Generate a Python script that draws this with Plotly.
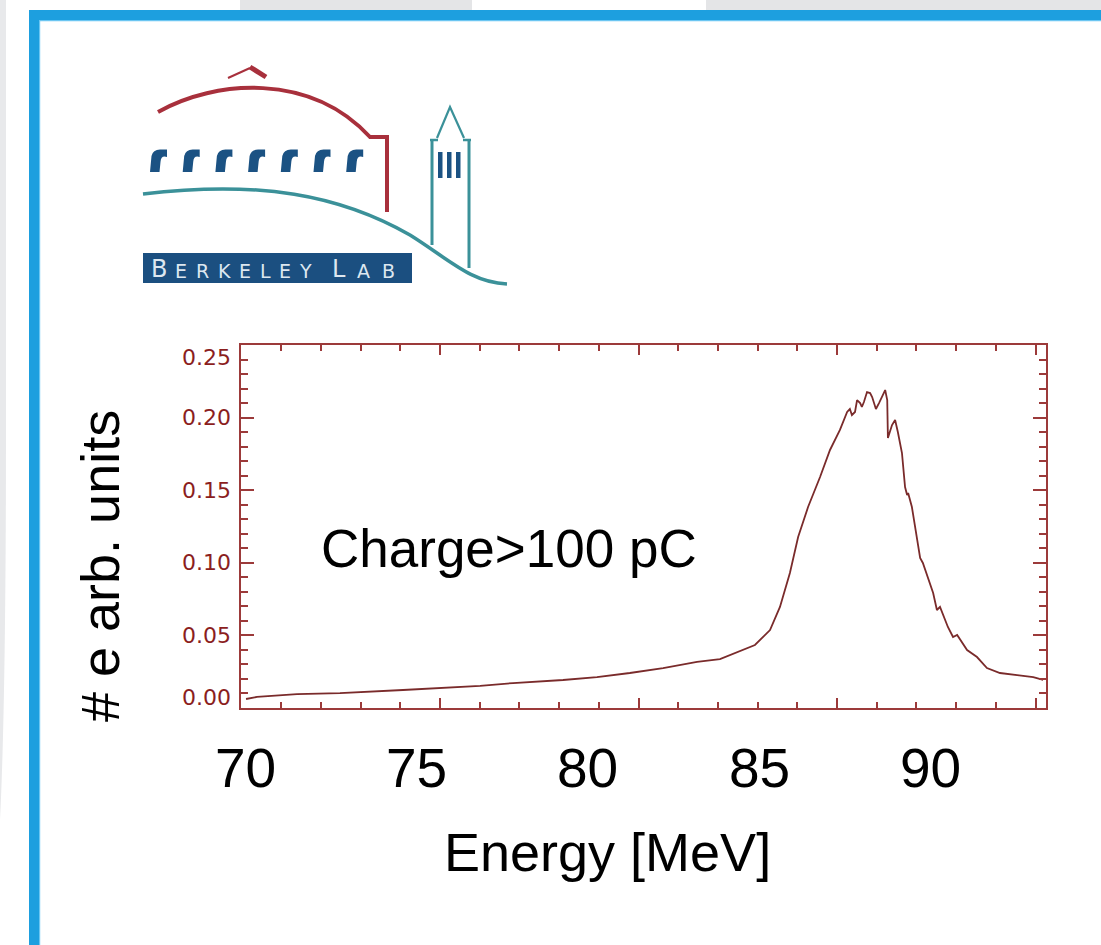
import plotly.graph_objects as go

# ---------------- data ----------------
energy = [70.03, 70.35, 71.52, 72.77, 74.61, 75.89, 76.86, 77.82, 79.28, 80.27,
          81.23, 82.20, 83.19, 83.86, 84.24, 84.88, 85.32, 85.61, 85.90, 86.14,
          86.43, 86.78, 87.07, 87.36, 87.57, 87.65, 87.71, 87.80, 87.86, 87.95,
          88.00, 88.06, 88.15, 88.24, 88.30, 88.41, 88.50, 88.62, 88.68, 88.74,
          88.76, 88.88, 88.97, 89.05, 89.17, 89.26, 89.32, 89.35, 89.46, 89.70,
          89.78, 90.08, 90.19, 90.28, 90.51, 90.66, 90.78, 91.07, 91.36, 91.65,
          92.03, 92.53, 93.00, 93.29]
counts = [0.0062, 0.0076, 0.0096, 0.0103, 0.0124, 0.0138, 0.0152, 0.0172, 0.0193, 0.0213,
          0.0241, 0.0275, 0.0317, 0.0337, 0.0372, 0.0434, 0.0537, 0.0696, 0.0930, 0.1178,
          0.1384, 0.1591, 0.1777, 0.1915, 0.2039, 0.2059, 0.2018, 0.2039, 0.2121, 0.2100,
          0.2073, 0.2107, 0.2176, 0.2169, 0.2142, 0.2059, 0.2100, 0.2169, 0.2190, 0.2121,
          0.1860, 0.1949, 0.1983, 0.1901, 0.1756, 0.1522, 0.1467, 0.1481, 0.1384, 0.1033,
          0.0999, 0.0792, 0.0675, 0.0696, 0.0558, 0.0489, 0.0503, 0.0399, 0.0351, 0.0275,
          0.0241, 0.0227, 0.0213, 0.0193]

x_tick_vals = [70, 75, 80, 85, 90]
x_tick_text = ["70", "75", "80", "85", "90"]
y_tick_vals = [0.00, 0.05, 0.10, 0.15, 0.20, 0.25]
y_tick_text = ["0.00", "0.05", "0.10", "0.15", "0.20", "0.25"]

logo_letters = ["B", "E", "R", "K", "E", "L", "E", "Y", "L", "A", "B"]
logo_caps = [True, False, False, False, False, False, False, False, True, False, False]

x_title = "Energy [MeV]"
y_title = "# e arb. units"
note_text = "Charge>100 pC"

# ---------------- layout helpers ----------------
W, H = 1101, 945


def fx(x):
    return x / W


def fy(y):
    return 1 - y / H


def path(cmds):
    out = []
    for c in cmds:
        op, nums = c[0], c[1:]
        pts = []
        for i in range(0, len(nums), 2):
            pts.append(f"{fx(nums[i]):.5f},{fy(nums[i+1]):.5f}")
        out.append(op + " " + " ".join(pts))
    return " ".join(out)


shapes = []


def rect(x0, y0, x1, y1, color, layer="below"):
    shapes.append(dict(type="rect", xref="paper", yref="paper",
                       x0=fx(x0), x1=fx(x1), y0=fy(y1), y1=fy(y0),
                       fillcolor=color, line=dict(width=0), layer=layer))


def pth(cmds, fill=None, color=None, width=0):
    d = dict(type="path", xref="paper", yref="paper", path=path(cmds), layer="above")
    d["fillcolor"] = fill if fill else "rgba(0,0,0,0)"
    d["line"] = dict(color=color or "rgba(0,0,0,0)", width=width)
    shapes.append(d)


# page background pieces
rect(240, 0, 472, 10, "#e4e5e7")
rect(706, 0, 1101, 10, "#e4e5e7")
shapes.append(dict(type="path", xref="paper", yref="paper", layer="below",
                   path=path([("M", 0, 0), ("L", 6, 0), ("L", 6, 420), ("Q", 6, 700, 0, 820), ("Z",)]),
                   fillcolor="#e8e9eb", line=dict(width=0)))
# blue frame
rect(29, 10, 1101, 20, "#1d9fdf")
rect(29, 10, 39, 945, "#1d9fdf")
rect(39, 20, 1101, 21.2, "#6cc6f2")
rect(39, 20, 40.2, 945, "#6cc6f2")

# ---------------- logo ----------------
RED = "#a8303c"
NAVY = "#1b5283"
TEAL = "#3b9199"
pth([("M", 158, 112), ("C", 215, 80, 310, 72, 370, 137), ("L", 387, 137), ("L", 387, 212)],
    color=RED, width=4)
pth([("M", 228, 78), ("L", 250, 68)], color=RED, width=2)
pth([("M", 250, 67), ("L", 266, 77)], color=RED, width=5)
for i in range(7):
    x0 = 150 + i * 32.7
    pth([("M", x0, 172), ("L", x0 + 1.5, 156), ("Q", x0 + 3, 149.5, x0 + 10, 149.5),
         ("L", x0 + 17, 149.5), ("L", x0 + 17, 157), ("Q", x0 + 11, 155, x0 + 10.5, 162),
         ("L", x0 + 9.5, 172), ("Z",)], fill=NAVY)
pth([("M", 143, 194), ("C", 260, 180, 340, 195, 410, 235), ("C", 450, 260, 470, 282, 507, 284)],
    color=TEAL, width=3.5)
# tower
pth([("M", 437, 138), ("L", 450, 107), ("L", 464, 138)], color=TEAL, width=2.2)
pth([("M", 430, 140), ("L", 438, 140)], color=TEAL, width=2.5)
pth([("M", 463, 140), ("L", 471, 140)], color=TEAL, width=2.5)
pth([("M", 432, 140), ("L", 432, 245)], color=TEAL, width=3)
pth([("M", 469, 140), ("L", 469, 268)], color=TEAL, width=3)
for wx in (438, 447, 456):
    shapes.append(dict(type="rect", xref="paper", yref="paper", x0=fx(wx), x1=fx(wx + 4.5),
                       y0=fy(178), y1=fy(152), fillcolor=NAVY, line=dict(width=0)))
shapes.append(dict(type="rect", xref="paper", yref="paper", x0=fx(143), x1=fx(412),
                   y0=fy(283), y1=fy(253), fillcolor="#1b4f80", line=dict(width=0)))

annotations = []
letter_x = [159, 181, 202, 224, 245, 265, 285, 305, 339, 363, 388]
for ch, cap, lx in zip(logo_letters, logo_caps, letter_x):
    fs = 24 if cap else 19
    annotations.append(dict(xref="paper", yref="paper", x=fx(lx), y=fy(277.5 - 0.35 * fs),
                            text=ch, showarrow=False, xanchor="center", yanchor="middle",
                            font=dict(family="DejaVu Sans", size=fs, color="#dde7f0")))

# ---------------- plot ----------------
AX = "#9c3a3a"
LAB = "#8b1e1e"
fig = go.Figure()
fig.add_trace(go.Scatter(x=energy, y=counts, mode="lines",
                         line=dict(color="#7a2b2b", width=1.8),
                         showlegend=False, hoverinfo="skip"))

for v, t in zip(y_tick_vals, y_tick_text):
    shift = -12 if v == max(y_tick_vals) else (11 if v == min(y_tick_vals) else 0)
    annotations.append(dict(xref="paper", yref="y", x=fx(233), y=v, yshift=shift,
                            text=t, showarrow=False, xanchor="right", yanchor="middle",
                            font=dict(family="DejaVu Sans", size=22, color=LAB)))

big = dict(family="Liberation Sans, Arial", size=54, color="black")
for v, t in zip(x_tick_vals, x_tick_text):
    annotations.append(dict(xref="x", yref="paper", x=v, y=fy(768), text=t,
                            showarrow=False, xanchor="center", yanchor="middle",
                            font=dict(family="Liberation Sans, Arial", size=55, color="black")))
annotations.append(dict(xref="paper", yref="paper", x=fx(607), y=fy(852), text=x_title,
                        showarrow=False, xanchor="center", yanchor="middle", font=big))
annotations.append(dict(xref="paper", yref="paper", x=fx(100), y=fy(566), text=y_title,
                        showarrow=False, xanchor="center", yanchor="middle", textangle=-90,
                        font=big))
annotations.append(dict(xref="paper", yref="paper", x=fx(319), y=fy(548), text=note_text,
                        showarrow=False, xanchor="left", yanchor="middle",
                        font=dict(family="Liberation Sans, Arial", size=53, color="black")))

xr = [69.883, 93.373]
fig.update_layout(
    width=W, height=H, margin=dict(l=0, r=0, t=0, b=0),
    paper_bgcolor="white", plot_bgcolor="white",
    xaxis=dict(domain=[fx(241), fx(1046)], range=xr, anchor="y",
               showline=True, linecolor=AX, linewidth=2, mirror="ticks",
               ticks="inside", tickcolor=AX, ticklen=10, tickwidth=1.5,
               tickmode="linear", tick0=69.90, dtick=5.792,
               minor=dict(ticks="inside", ticklen=6, tickcolor=AX, tickwidth=1.5,
                          tickmode="linear", tick0=69.90, dtick=1.1584, showgrid=False),
               showticklabels=False, showgrid=False, zeroline=False),
    yaxis=dict(domain=[fy(708), fy(345)], range=[0, 0.25], anchor="x",
               showline=True, linecolor=AX, linewidth=2, mirror="ticks",
               ticks="inside", tickcolor=AX, ticklen=13, tickwidth=1.5,
               tickmode="linear", tick0=0, dtick=0.05,
               minor=dict(ticks="inside", ticklen=7, tickcolor=AX, tickwidth=1.5,
                          tickmode="linear", tick0=0, dtick=0.01, showgrid=False),
               showticklabels=False, showgrid=False, zeroline=False),
    shapes=shapes, annotations=annotations,
)

fig.write_html("out.html", config={"displayModeBar": False})
